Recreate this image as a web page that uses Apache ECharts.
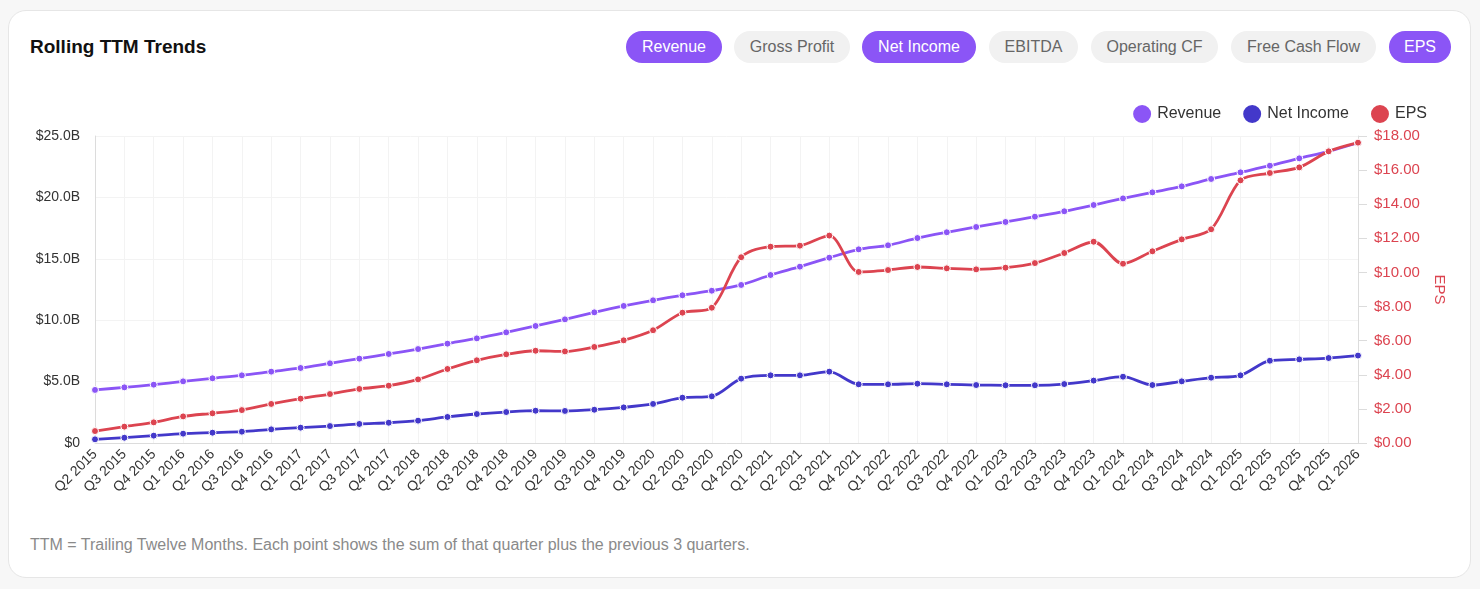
<!DOCTYPE html>
<html>
<head>
<meta charset="utf-8">
<script src="https://cdn.jsdelivr.net/npm/echarts@6/dist/echarts.min.js"></script>
<style>
  html, body { margin: 0; padding: 0; background: #f7f7f7; font-family: "Liberation Sans", Arial, sans-serif; }
  #card { position: absolute; left: 8px; top: 10px; width: 1461px; height: 566px; background: #fff; border: 1px solid #e6e6e6; border-radius: 18px; }
  #title { position: absolute; left: 30px; top: 36px; font-size: 19px; font-weight: bold; color: #111; }
  .btn { position: absolute; top: 31px; height: 32px; line-height: 32px; border-radius: 16px; font-size: 16px; text-align: center; background: #f1f1f1; color: #666; }
  .btn.on { background: #8b55f6; color: #fff; }
  #note { position: absolute; left: 30px; top: 536px; font-size: 16px; color: #8a8a8a; }
  #chart { position: absolute; left: 0; top: 0; width: 1480px; height: 589px; }
</style>
</head>
<body>
<div id="card"></div>
<div id="title">Rolling TTM Trends</div>
<div class="btn on" style="left:626px;width:96px">Revenue</div>
<div class="btn" style="left:734px;width:116px">Gross Profit</div>
<div class="btn on" style="left:862px;width:114px">Net Income</div>
<div class="btn" style="left:989px;width:89px">EBITDA</div>
<div class="btn" style="left:1091px;width:127px">Operating CF</div>
<div class="btn" style="left:1231px;width:145px">Free Cash Flow</div>
<div class="btn on" style="left:1389px;width:62px">EPS</div>
<div id="note">TTM = Trailing Twelve Months. Each point shows the sum of that quarter plus the previous 3 quarters.</div>
<div id="chart"></div>
<script>
const quarters = [
  "Q2 2015","Q3 2015","Q4 2015",
  "Q1 2016","Q2 2016","Q3 2016","Q4 2016",
  "Q1 2017","Q2 2017","Q3 2017","Q4 2017",
  "Q1 2018","Q2 2018","Q3 2018","Q4 2018",
  "Q1 2019","Q2 2019","Q3 2019","Q4 2019",
  "Q1 2020","Q2 2020","Q3 2020","Q4 2020",
  "Q1 2021","Q2 2021","Q3 2021","Q4 2021",
  "Q1 2022","Q2 2022","Q3 2022","Q4 2022",
  "Q1 2023","Q2 2023","Q3 2023","Q4 2023",
  "Q1 2024","Q2 2024","Q3 2024","Q4 2024",
  "Q1 2025","Q2 2025","Q3 2025","Q4 2025",
  "Q1 2026"
];
// Billions of dollars
const revenue = [
  4.32, 4.53, 4.75, 5.02, 5.27, 5.51, 5.81, 6.11, 6.49, 6.87, 7.25,
  7.65, 8.09, 8.52, 9.01, 9.53, 10.07, 10.64, 11.16, 11.62, 12.03,
  12.40, 12.87, 13.68, 14.36, 15.09, 15.77, 16.10, 16.69, 17.16, 17.59,
  18.00, 18.43, 18.87, 19.38, 19.92, 20.41, 20.90, 21.50, 22.04, 22.58,
  23.18, 23.75, 24.45
];
const netIncome = [
  0.30, 0.43, 0.60, 0.76, 0.84, 0.92, 1.11, 1.25, 1.38, 1.55, 1.65,
  1.82, 2.12, 2.36, 2.52, 2.63, 2.61, 2.71, 2.90, 3.18, 3.69,
  3.80, 5.24, 5.51, 5.51, 5.81, 4.78, 4.78, 4.83, 4.78, 4.72,
  4.70, 4.70, 4.80, 5.08, 5.40, 4.72, 5.02, 5.32, 5.51, 6.70,
  6.81, 6.92, 7.12
];
// Dollars per share
const eps = [
  0.70, 0.96, 1.21, 1.56, 1.74, 1.93, 2.29, 2.60, 2.87, 3.17, 3.36,
  3.73, 4.34, 4.85, 5.20, 5.41, 5.37, 5.63, 6.02, 6.61, 7.64,
  7.93, 10.89, 11.51, 11.57, 12.16, 10.03, 10.14, 10.32, 10.24, 10.18,
  10.28, 10.55, 11.14, 11.80, 10.51, 11.24, 11.94, 12.53, 15.40, 15.83,
  16.16, 17.10, 17.61
];
const leftTicks = [0, 5, 10, 15, 20, 25];
const rightTicks = [0, 2, 4, 6, 8, 10, 12, 14, 16, 18];

const chart = echarts.init(document.getElementById('chart'));
const font = '"Liberation Sans", Arial, sans-serif';
function lineSeries(name, data, color, axis) {
  return {
    name, type: 'line', data, yAxisIndex: axis, smooth: 0.3,
    symbol: 'circle', symbolSize: 7, showSymbol: true,
    lineStyle: { color, width: 2.8 },
    itemStyle: { color, borderColor: '#fff', borderWidth: 1 }
  };
}
chart.setOption({
  animation: false,
  textStyle: { fontFamily: font },
  color: ['#8b55f6', '#4338ca', '#dc4450'],
  legend: {
    right: 48, top: 98, icon: 'circle', itemWidth: 20, itemHeight: 20, itemGap: 20,
    textStyle: { fontSize: 16, color: '#333', fontFamily: font },
    data: ['Revenue', 'Net Income', 'EPS']
  },
  grid: { left: 95, right: 122, top: 136, bottom: 146, containLabel: false },
  xAxis: {
    type: 'category', data: quarters, boundaryGap: false,
    axisLine: { lineStyle: { color: '#dcdcdc' } },
    axisTick: { show: false },
    axisLabel: { rotate: 45, interval: 0, fontSize: 14, color: '#333', margin: 9, fontFamily: font },
    splitLine: { show: true, lineStyle: { color: '#f3f3f3' } }
  },
  yAxis: [
    {
      type: 'value', min: 0, max: 25, interval: 5, position: 'left',
      axisLine: { show: true, lineStyle: { color: '#dcdcdc' } },
      axisTick: { show: false },
      axisLabel: { fontSize: 14, color: '#333', margin: 15, fontFamily: font,
        formatter: v => v === 0 ? '$0' : '$' + v.toFixed(1) + 'B' },
      splitLine: { lineStyle: { color: '#f3f3f3' } }
    },
    {
      type: 'value', min: 0, max: 18, interval: 2, position: 'right',
      name: 'EPS', nameLocation: 'middle', nameGap: 74, nameRotate: -90,
      nameTextStyle: { color: '#dc4450', fontSize: 15, fontFamily: font },
      axisLine: { show: true, lineStyle: { color: '#dcdcdc' } },
      axisTick: { show: true, length: 9, lineStyle: { color: '#dcdcdc' } },
      axisLabel: { fontSize: 15, color: '#dc4450', margin: 16, fontFamily: font,
        formatter: v => '$' + v.toFixed(2) },
      splitLine: { show: false }
    }
  ],
  series: [
    lineSeries('Revenue', revenue, '#8b55f6', 0),
    lineSeries('Net Income', netIncome, '#4338ca', 0),
    lineSeries('EPS', eps, '#dc4450', 1)
  ]
});
</script>
</body>
</html>
